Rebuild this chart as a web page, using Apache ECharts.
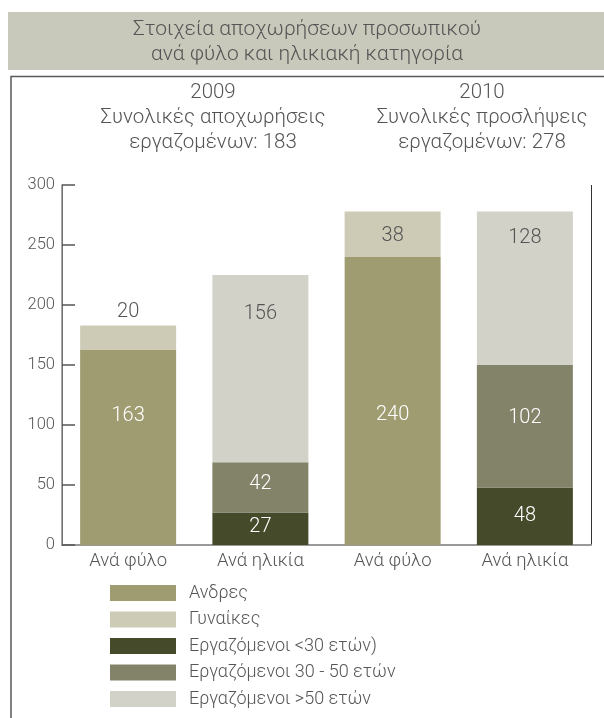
<!DOCTYPE html>
<html>
<head>
<meta charset="utf-8">
<script src="https://cdn.jsdelivr.net/npm/echarts@6/dist/echarts.min.js"></script>
<style>html,body{margin:0;padding:0;background:#fff}#c{width:604px;height:718px}</style>
</head>
<body>
<div id="c"></div>
<script>
// ---- data ----
const categories = ['Ανά φύλο', 'Ανά ηλικία', 'Ανά φύλο', 'Ανά ηλικία'];
const men   = [163, null, 240, null];
const women = [20, null, 38, null];
const ageUnder30 = [null, 27, null, 48];
const age30to50  = [null, 42, null, 102];
const ageOver50  = [null, 156, null, 128];
const seriesNames = ['Ανδρες', 'Γυναίκες', 'Εργαζόμενοι <30 ετών)', 'Εργαζόμενοι 30 - 50 ετών', 'Εργαζόμενοι >50 ετών'];
const yTicks = [0, 50, 100, 150, 200, 250, 300];
const mainTitle = 'Στοιχεία αποχωρήσεων προσωπικού\nανά φύλο και ηλικιακή κατηγορία';
const group2009 = '2009\nΣυνολικές αποχωρήσεις\nεργαζομένων: 183';
const group2010 = '2010\nΣυνολικές προσλήψεις\nεργαζομένων: 278';

// ---- styles ----
const FONT = 'Roboto, "Liberation Sans", sans-serif';
const TXT = '#555555';
const colors = ['#a09c72', '#cdcbb6', '#454a2b', '#83836a', '#d2d2c9'];
const labelColors = ['#ffffff', TXT, '#ffffff', '#ffffff', TXT];
// per-segment label vertical offsets (px), keyed by series index
const labelOffsets = [[-31, 0, 14, 0], [0, 0, 2, 0], [-2, -2, 0, 0], [0, -3, 0, -8], [0, -55, 0, -50]];

const allSeries = [men, women, ageUnder30, age30to50, ageOver50];

const series = allSeries.map((arr, si) => ({
  name: seriesNames[si],
  type: 'bar',
  stack: 'total',
  barWidth: 96,
  itemStyle: { color: colors[si] },
  label: {
    show: true,
    position: 'inside',
    color: labelColors[si],
    fontFamily: FONT,
    fontWeight: 300,
    fontSize: 20
  },
  data: arr.map((v, i) => {
    if (v == null) return null;
    const item = { value: v, label: { offset: [0, labelOffsets[si][i]] } };
    if (si === 1 && i === 0) item.label = { position: 'top', distance: 3 };
    return item;
  })
}));

const chart = echarts.init(document.getElementById('c'), null, { renderer: 'canvas' });
chart.setOption({
  animation: false,
  textStyle: { fontFamily: FONT },
  graphic: [
    { type: 'rect', shape: { x: 8, y: 12, width: 600, height: 58 }, style: { fill: '#c8c8bb' }, z: 0 },
    { type: 'polyline', shape: { points: [[11, 730], [11, 76.5], [610, 76.5]] }, style: { stroke: '#5a5a5a', lineWidth: 1.5, fill: null } },
    { type: 'text', x: 307, y: 17, style: { text: mainTitle, textAlign: 'center', textVerticalAlign: 'top', font: '300 21px ' + FONT, lineHeight: 25, fill: TXT } },
    { type: 'text', x: 213, y: 80, style: { text: group2009, textAlign: 'center', textVerticalAlign: 'top', font: '300 20.5px ' + FONT, lineHeight: 25, fill: TXT } },
    { type: 'text', x: 482, y: 80, style: { text: group2010, textAlign: 'center', textVerticalAlign: 'top', font: '300 20.5px ' + FONT, lineHeight: 25, fill: TXT } }
  ],
  legend: {
    orient: 'vertical',
    left: 110,
    top: 584,
    height: 200,
    padding: 0,
    itemWidth: 66,
    itemHeight: 16,
    itemGap: 8.5,
    icon: 'rect',
    data: seriesNames,
    selectedMode: false,
    textStyle: { color: TXT, fontSize: 18, fontWeight: 300, fontFamily: FONT, padding: [0, 0, 0, 8] }
  },
  grid: { left: 62, right: 13, top: 185, bottom: 173 },
  xAxis: {
    type: 'category',
    data: categories.map((c, i) => i),
    axisLine: { lineStyle: { color: '#999', width: 2 } },
    axisTick: { show: false },
    axisLabel: { formatter: (v) => categories[+v], color: TXT, fontSize: 18.5, fontWeight: 300, fontFamily: FONT, margin: 7 },
    splitLine: { show: true, interval: (i) => i === 2, lineStyle: { color: '#333', width: 1 } }
  },
  yAxis: {
    type: 'value',
    min: yTicks[0],
    max: yTicks[yTicks.length - 1],
    interval: yTicks[1] - yTicks[0],
    axisLine: { show: true, lineStyle: { color: '#888', width: 1.5 } },
    axisTick: { show: true, inside: true, length: 13, lineStyle: { color: '#555', width: 1.5 } },
    axisLabel: { color: TXT, fontSize: 16.5, fontWeight: 300, fontFamily: FONT, margin: 7 },
    splitLine: { show: false }
  },
  series: series
});
</script>
</body>
</html>
